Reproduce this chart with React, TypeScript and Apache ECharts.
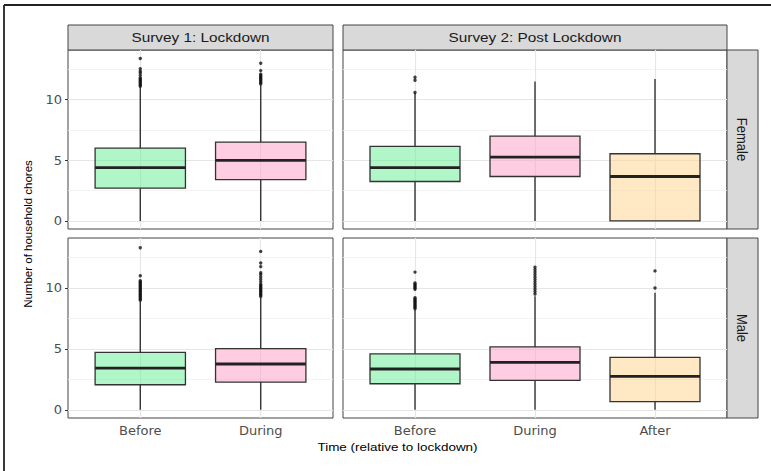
import React, { useEffect, useRef } from "react";
import * as echarts from "echarts";

const survey1Times = ["Before", "During"];
const survey2Times = ["Before", "During", "After"];
const stripTop = ["Survey 1: Lockdown", "Survey 2: Post Lockdown"];
const stripRight = ["Female", "Male"];
const yTicks = [0, 5, 10];
const yMinorTicks = [2.5, 7.5, 12.5];

// [whiskerLow, Q1, median, Q3, whiskerHigh]
const femaleSurvey1Stats = [
  [0, 2.7, 4.4, 6.0, 11.05],
  [0, 3.4, 5.0, 6.5, 11.2],
];
const femaleSurvey2Stats = [
  [0, 3.25, 4.4, 6.15, 10.55],
  [0, 3.66, 5.26, 7.0, 11.5],
  [0, 0, 3.66, 5.54, 11.7],
];
const maleSurvey1Stats = [
  [0, 2.06, 3.43, 4.72, 8.9],
  [0, 2.28, 3.76, 5.02, 9.2],
];
const maleSurvey2Stats = [
  [0, 2.14, 3.35, 4.6, 8.2],
  [0, 2.41, 3.9, 5.16, 9.33],
  [0, 0.68, 2.74, 4.3, 9.6],
];

const femaleSurvey1Outliers = [
  [11.1, 11.2, 11.3, 11.4, 11.5, 11.6, 11.7, 11.8, 12.0, 12.2, 12.35, 12.55, 13.4],
  [11.3, 11.4, 11.5, 11.6, 11.7, 11.8, 11.9, 12.0, 12.1, 12.4, 13.0],
];
const femaleSurvey2Outliers = [
  [10.6, 11.6, 11.85],
  [],
  [],
];
const maleSurvey1Outliers = [
  [9.0, 9.1, 9.2, 9.3, 9.4, 9.5, 9.6, 9.7, 9.8, 9.9, 10.0, 10.1, 10.2, 10.3, 10.4, 10.5, 10.6, 11.0, 13.3],
  [9.3, 9.4, 9.5, 9.6, 9.7, 9.8, 9.9, 10.0, 10.1, 10.2, 10.3, 10.5, 10.7, 10.9, 11.1, 11.25, 11.75, 12.05, 13.0],
];
const maleSurvey2Outliers = [
  [8.3, 8.4, 8.5, 8.6, 8.7, 8.8, 8.9, 9.0, 9.1, 9.2, 9.9, 10.0, 10.1, 10.2, 10.3, 10.4, 11.3],
  [9.5, 9.7, 9.9, 10.1, 10.3, 10.5, 10.7, 10.9, 11.1, 11.3, 11.5, 11.7],
  [10.0, 11.4],
];

const FONT = "Liberation Sans, Arial, sans-serif";
const TICK_FONT = "DejaVu Sans, Liberation Sans, sans-serif";
const FILLS = ["rgba(99,238,146,0.5)", "rgba(255,155,195,0.5)", "rgba(255,211,137,0.5)"];

const panels = [
  { left: 68, top: 50, width: 265, height: 179, cats: survey1Times, stats: femaleSurvey1Stats, outliers: femaleSurvey1Outliers, bottom: false },
  { left: 343, top: 50, width: 384, height: 179, cats: survey2Times, stats: femaleSurvey2Stats, outliers: femaleSurvey2Outliers, bottom: false },
  { left: 68, top: 238, width: 265, height: 180, cats: survey1Times, stats: maleSurvey1Stats, outliers: maleSurvey1Outliers, bottom: true },
  { left: 343, top: 238, width: 384, height: 180, cats: survey2Times, stats: maleSurvey2Stats, outliers: maleSurvey2Outliers, bottom: true },
];

function buildOption() {
  const grid: any[] = [];
  const xAxis: any[] = [];
  const yAxis: any[] = [];
  const series: any[] = [];

  panels.forEach((p, i) => {
    const positions = p.cats.map((_, k) => k + 1);
    grid.push({
      left: p.left,
      top: p.top,
      width: p.width,
      height: p.height,
      show: true,
      borderColor: "#444",
      borderWidth: 1,
      backgroundColor: "transparent",
    });
    xAxis.push({
      type: "value",
      gridIndex: i,
      min: 0.4,
      max: p.cats.length + 0.6,
      axisLine: { show: false },
      splitLine: { show: false },
      axisTick: { show: p.bottom, length: 3, customValues: positions, lineStyle: { color: "#333" } },
      axisLabel: {
        show: p.bottom,
        customValues: positions,
        formatter: (v: number) => p.cats[Math.round(v) - 1] || "",
        color: "#4d4d4d",
        fontSize: 13,
        fontFamily: TICK_FONT,
        margin: 6,
      },
    });
    yAxis.push({
      type: "value",
      gridIndex: i,
      min: -0.67,
      max: 14.1,
      axisLine: { show: false },
      splitLine: { show: false },
      axisTick: { show: p.left < 100, length: 3, customValues: yTicks, lineStyle: { color: "#333" } },
      axisLabel: {
        show: p.left < 100,
        customValues: yTicks,
        color: "#4d4d4d",
        fontSize: 13,
        fontFamily: TICK_FONT,
        margin: 6,
      },
    });

    // grid lines
    series.push({
      type: "scatter",
      xAxisIndex: i,
      yAxisIndex: i,
      data: [],
      z: 1,
      silent: true,
      markLine: {
        z: 1,
        silent: true,
        symbol: "none",
        label: { show: false },
        animation: false,
        data: [
          ...yMinorTicks.map((v) => ({ yAxis: v, lineStyle: { color: "#f0f0f0", width: 0.8, type: "solid" } })),
          ...yTicks.map((v) => ({ yAxis: v, lineStyle: { color: "#e6e6e6", width: 1.2, type: "solid" } })),
          ...positions.map((v) => ({ xAxis: v, lineStyle: { color: "#e6e6e6", width: 1.2, type: "solid" } })),
        ],
      },
    });

    series.push({
      type: "custom",
      xAxisIndex: i,
      yAxisIndex: i,
      z: 3,
      encode: { x: 0, y: [1, 2, 3, 4, 5] },
      data: p.stats.map((s, k) => [k + 1, ...s]),
      renderItem: (params: any, api: any) => {
        const x = api.value(0);
        const lo = api.coord([x, api.value(1)]);
        const q1 = api.coord([x, api.value(2)]);
        const md = api.coord([x, api.value(3)]);
        const q3 = api.coord([x, api.value(4)]);
        const hi = api.coord([x, api.value(5)]);
        const w = api.size([0.75, 0])[0];
        const fill = FILLS[Math.round(x) - 1];
        return {
          type: "group",
          children: [
            { type: "line", shape: { x1: lo[0], y1: lo[1], x2: q1[0], y2: q1[1] }, style: { stroke: "#333", lineWidth: 1.4 } },
            { type: "line", shape: { x1: q3[0], y1: q3[1], x2: hi[0], y2: hi[1] }, style: { stroke: "#333", lineWidth: 1.4 } },
            {
              type: "rect",
              shape: { x: q3[0] - w / 2, y: q3[1], width: w, height: q1[1] - q3[1] },
              style: { fill, stroke: "#333", lineWidth: 1.3 },
            },
            {
              type: "line",
              shape: { x1: md[0] - w / 2, y1: md[1], x2: md[0] + w / 2, y2: md[1] },
              style: { stroke: "#222", lineWidth: 2.8 },
            },
          ],
        };
      },
    });

    const pts: number[][] = [];
    p.outliers.forEach((arr, k) => arr.forEach((v) => pts.push([k + 1, v])));
    series.push({
      type: "scatter",
      xAxisIndex: i,
      yAxisIndex: i,
      z: 4,
      symbol: "circle",
      symbolSize: 3.4,
      itemStyle: { color: "#111", borderWidth: 0 },
      data: pts,
    });
  });

  const graphic: any[] = [
    { type: "line", shape: { x1: 4, y1: 5, x2: 771, y2: 5 }, style: { stroke: "#222", lineWidth: 1.8 } },
    { type: "line", shape: { x1: 4, y1: 5, x2: 4, y2: 471 }, style: { stroke: "#222", lineWidth: 1.8 } },
  ];
  // top strips
  [panels[0], panels[1]].forEach((p, k) => {
    graphic.push({
      type: "rect",
      shape: { x: p.left, y: 25, width: p.width, height: 25 },
      style: { fill: "#d9d9d9", stroke: "#444", lineWidth: 1 },
    });
    graphic.push({
      type: "text",
      x: p.left + p.width / 2,
      y: 37.5,
      scaleX: 1.18,
      style: { text: stripTop[k], fill: "#1a1a1a", font: `13px ${FONT}`, align: "center", verticalAlign: "middle" },
    });
  });
  // right strips
  [panels[1], panels[3]].forEach((p, k) => {
    graphic.push({
      type: "rect",
      shape: { x: 727, y: p.top, width: 31, height: p.height },
      style: { fill: "#d9d9d9", stroke: "#444", lineWidth: 1 },
    });
    graphic.push({
      type: "text",
      x: 742.5,
      y: p.top + p.height / 2,
      rotation: -Math.PI / 2,
      scaleY: 1.15,
      style: { text: stripRight[k], fill: "#1a1a1a", font: `13px ${FONT}`, align: "center", verticalAlign: "middle" },
    });
  });
  graphic.push({
    type: "text",
    x: 28,
    y: 234,
    rotation: Math.PI / 2,
    style: { text: "Number of household chores", fill: "#000", font: `11.5px ${FONT}`, align: "center", verticalAlign: "middle" },
  });
  graphic.push({
    type: "text",
    x: 397.5,
    y: 447,
    scaleX: 1.17,
    style: { text: "Time (relative to lockdown)", fill: "#000", font: `11.5px ${FONT}`, align: "center", verticalAlign: "middle" },
  });

  return {
    animation: false,
    backgroundColor: "#fff",
    grid,
    xAxis,
    yAxis,
    series,
    graphic,
  };
}

export default function App() {
  const ref = useRef<HTMLDivElement>(null);
  useEffect(() => {
    if (!ref.current) return;
    const chart = echarts.init(ref.current, undefined, { renderer: "svg" });
    chart.setOption(buildOption() as any);
    return () => chart.dispose();
  }, []);
  return (
    <div
      ref={ref}
      style={{ position: "fixed", left: 0, top: 0, width: 771, height: 471, background: "#fff" }}
    />
  );
}
